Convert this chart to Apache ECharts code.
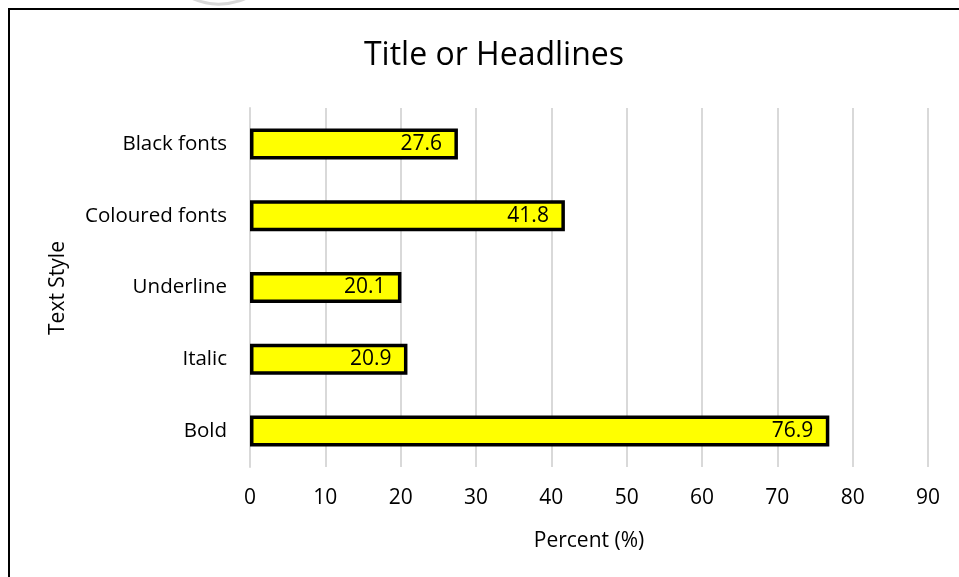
<!DOCTYPE html>
<html>
<head>
<meta charset="utf-8">
<script src="https://cdn.jsdelivr.net/npm/echarts@6/dist/echarts.min.js"></script>
<style>html,body{margin:0;padding:0;background:#fff}#c{width:959px;height:577px}</style>
</head>
<body>
<div id="c"></div>
<script>
var titleText = 'Title or Headlines';
var categories = ['Bold', 'Italic', 'Underline', 'Coloured fonts', 'Black fonts'];
var values = [76.9, 20.9, 20.1, 41.8, 27.6];
var xTicks = [0, 10, 20, 30, 40, 50, 60, 70, 80, 90];
var xAxisName = 'Percent (%)';
var yAxisName = 'Text Style';

var FONT = 'Open Sans';
var chart = echarts.init(document.getElementById('c'), null, {renderer: 'canvas'});
chart.setOption({
  backgroundColor: '#fff',
  animation: false,
  title: {
    text: titleText, left: 489, top: 35, textAlign: 'center',
    textStyle: {fontFamily: FONT, fontSize: 32, fontWeight: 'normal', color: '#000'}
  },
  graphic: [
    {type: 'rect', shape: {x: 9, y: 9, width: 980, height: 600}, style: {fill: 'none', stroke: '#000', lineWidth: 2}, z: 100},
    {type: 'arc', shape: {cx: 219, cy: -62, r: 66, startAngle: Math.PI * 0.15, endAngle: Math.PI * 0.85}, style: {fill: 'none', stroke: '#d8d8d8', lineWidth: 3}, z: 100},
    {type: 'text', rotation: Math.PI / 2, x: 58, y: 288, style: {text: yAxisName, font: '21px "' + FONT + '"', fill: '#000', textAlign: 'center', textVerticalAlign: 'middle'}}
  ],
  grid: {left: 250, right: 31, top: 108, bottom: 110, containLabel: false},
  xAxis: {
    type: 'value', min: xTicks[0], max: xTicks[xTicks.length - 1], interval: 10,
    name: xAxisName, nameLocation: 'middle', nameGap: 64,
    nameTextStyle: {fontFamily: FONT, fontSize: 21, color: '#000'},
    axisLine: {show: false}, axisTick: {show: false},
    axisLabel: {fontFamily: FONT, fontSize: 21, color: '#000', margin: 21},
    splitLine: {show: true, lineStyle: {color: '#d9d9d9', width: 2}}
  },
  yAxis: {
    type: 'category', data: categories,
    axisLine: {show: true, lineStyle: {color: '#d9d9d9', width: 2}},
    axisTick: {show: false},
    axisLabel: {fontFamily: FONT, fontSize: 20.5, color: '#000', margin: 23}
  },
  series: [{
    type: 'bar', data: values, barWidth: 31,
    itemStyle: {color: '#ffff00', borderColor: '#000', borderWidth: 3.5},
    label: {show: true, position: 'insideRight', distance: 16, fontFamily: FONT, fontSize: 21, color: '#000',
      formatter: function (p) { return p.value.toFixed(1); }}
  }]
});
</script>
</body>
</html>
